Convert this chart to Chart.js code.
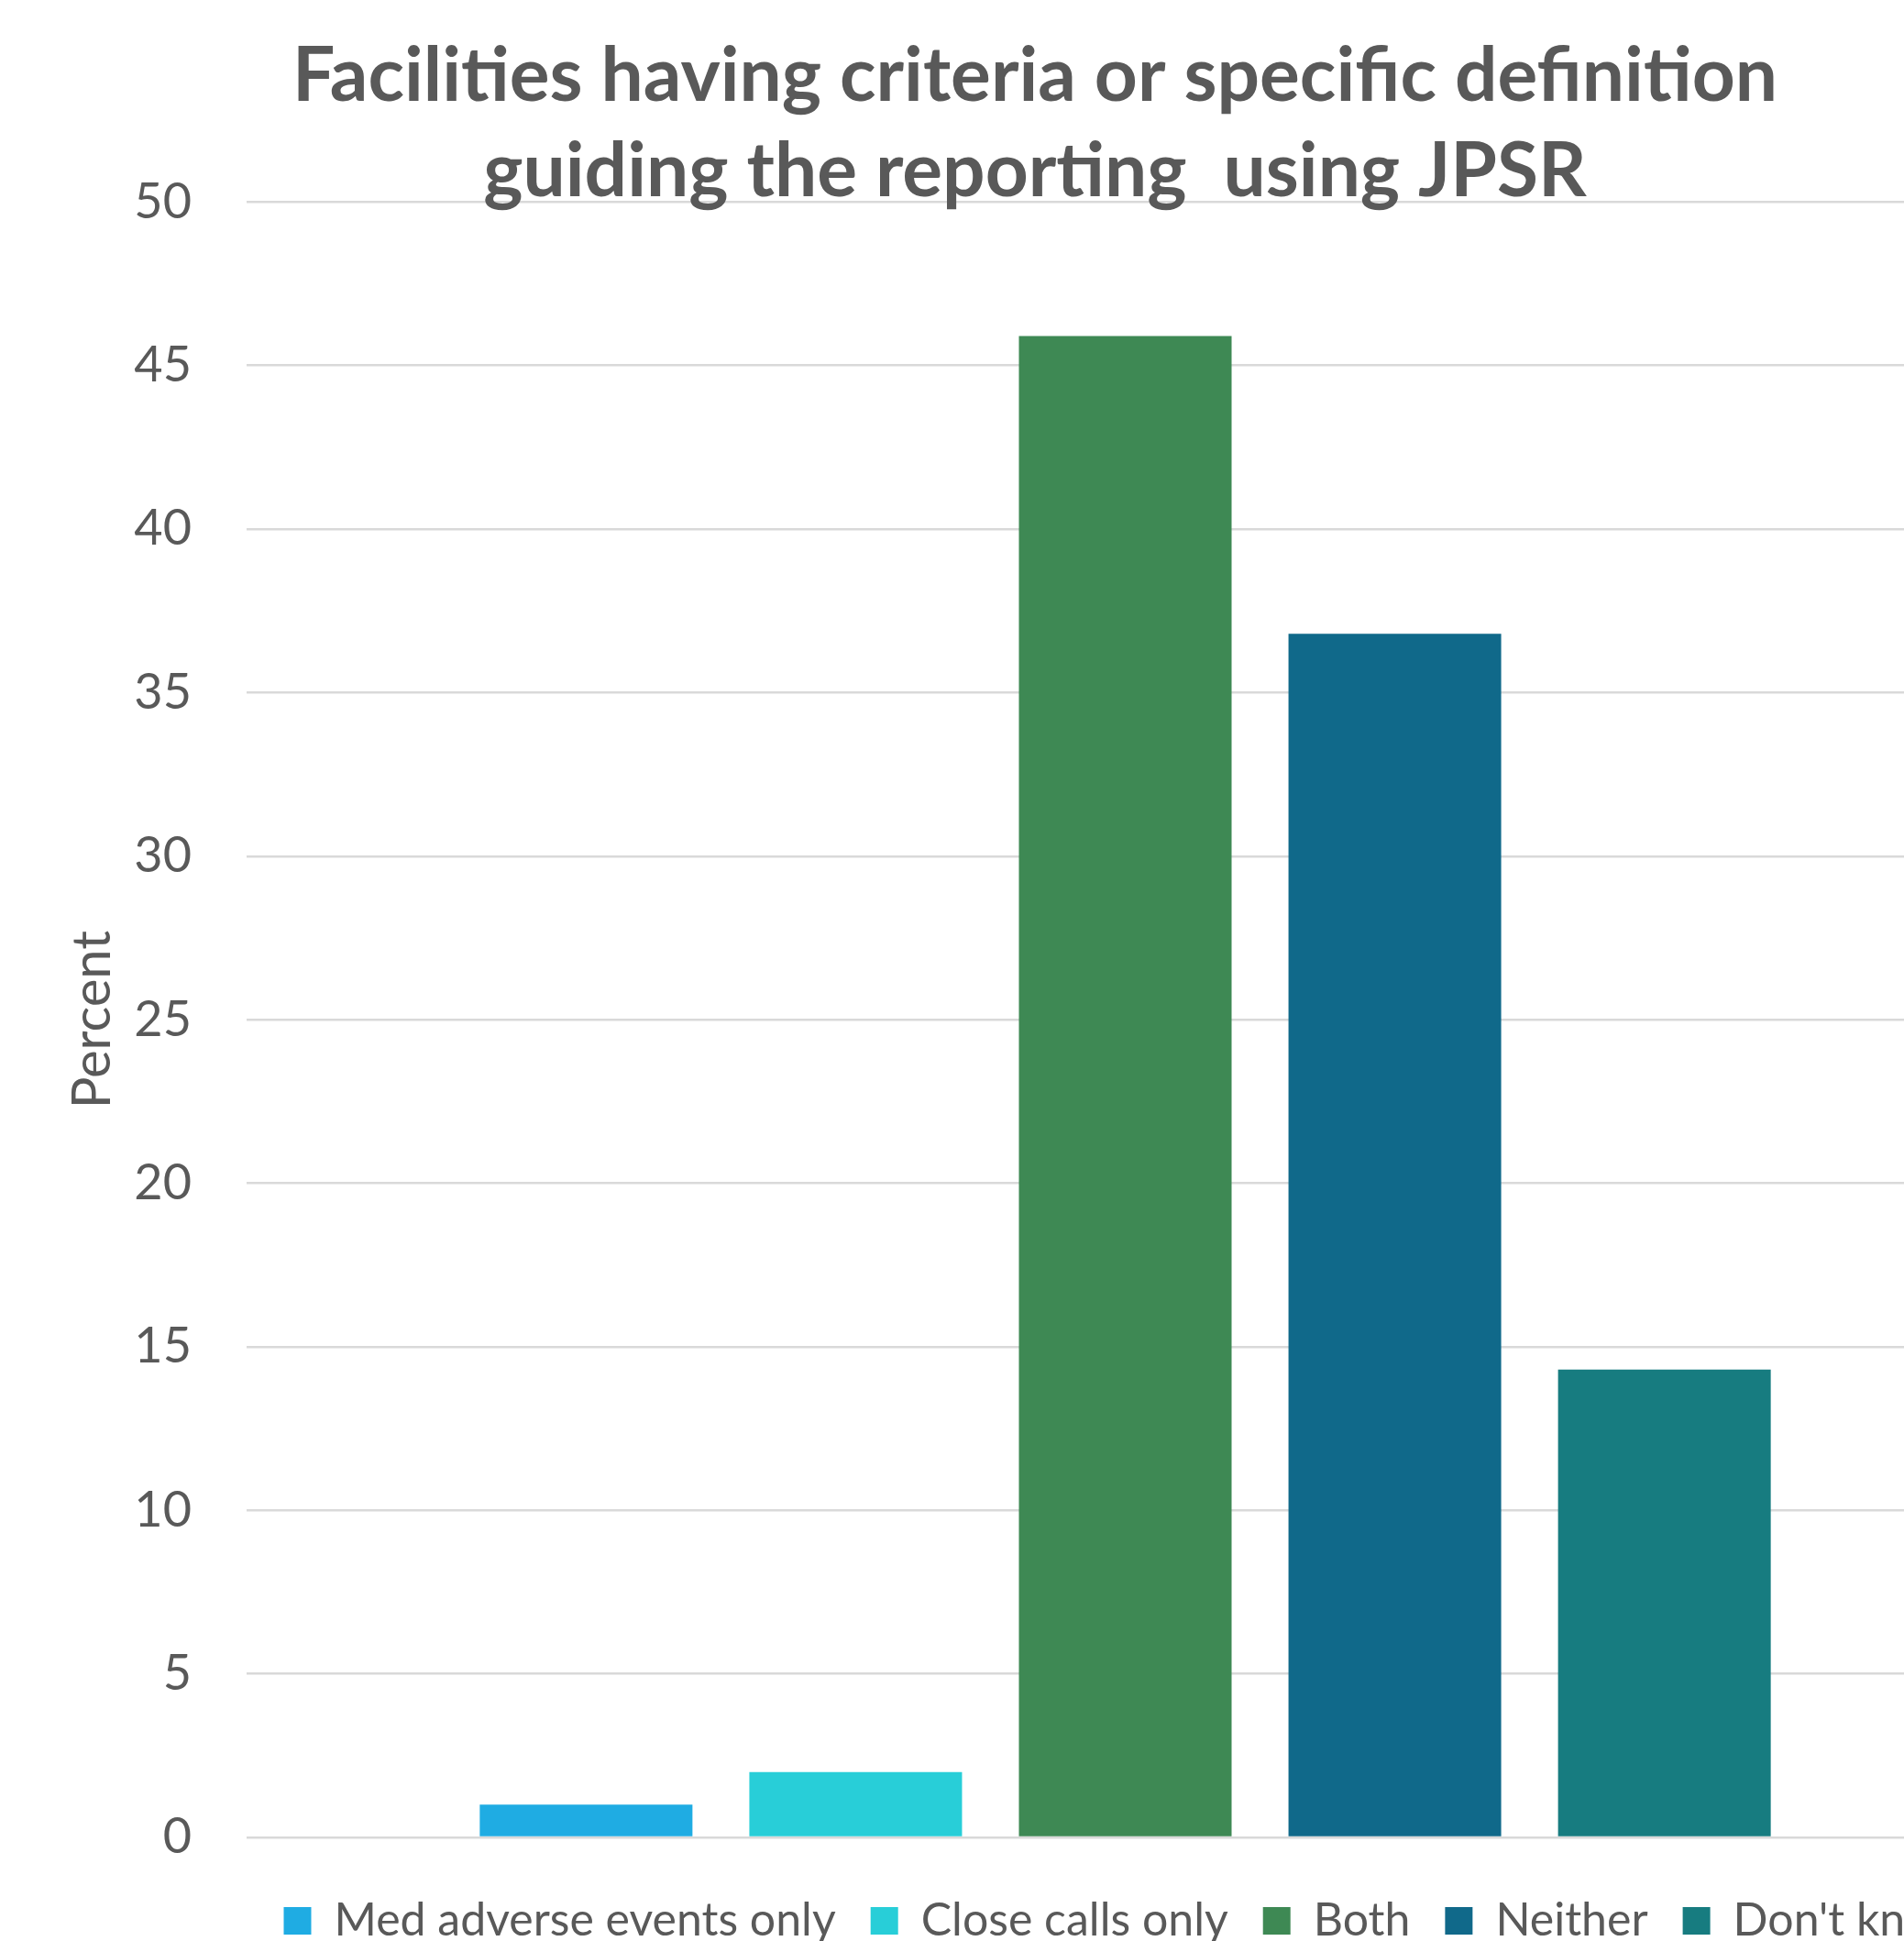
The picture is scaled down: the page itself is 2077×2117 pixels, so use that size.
<!DOCTYPE html>
<html>
<head>
<meta charset="utf-8">
<script src="https://cdn.jsdelivr.net/npm/chart.js@4/dist/chart.umd.min.js"></script>
<style>
  html, body { margin: 0; padding: 0; background: #ffffff; overflow: hidden; }
  #wrap { width: 2077px; height: 2117px; overflow: hidden; position: relative; }
  canvas { display: block; }
</style>
</head>
<body>
<div id="wrap"><canvas id="c" width="2258" height="2130"></canvas></div>
<script>
const chartTitle = ["Facilities having criteria or specific definition", "guiding the reporting  using JPSR"];
const categories = [""];
const seriesNames = ["Med adverse events only", "Close calls only", "Both", "Neither", "Don't know"];
const seriesValues = [1.0, 2.0, 45.9, 36.8, 14.3];
const seriesColors = ["#1FACE3", "#28CED8", "#3E8954", "#10698A", "#177C80"];
const yTitle = "Percent";
const yMin = 0, yMax = 50, yStep = 5;

const textColor = "#595959";
const fontFamily = "Lato, 'Open Sans', sans-serif";

const datasets = seriesNames.map((name, i) => ({
  label: name,
  data: [seriesValues[i]],
  backgroundColor: seriesColors[i],
  borderWidth: 0,
  categoryPercentage: 0.767,
  barPercentage: 0.789
}));

new Chart(document.getElementById("c"), {
  type: "bar",
  data: { labels: categories, datasets: datasets },
  options: {
    responsive: false,
    animation: false,
    layout: { padding: { left: 72, right: 72, top: 0, bottom: 0 } },
    plugins: {
      title: {
        display: true,
        text: chartTitle,
        color: textColor,
        font: { family: fontFamily, size: 82, weight: "bold", lineHeight: 1.27 },
        padding: { top: 31, bottom: -19 }
      },
      legend: {
        display: true,
        position: "bottom",
        align: "center",
        fullSize: false,
        labels: {
          color: textColor,
          font: { family: fontFamily, size: 50 },
          boxWidth: 30,
          boxHeight: 30,
          padding: 38
        }
      },
      tooltip: { enabled: false }
    },
    scales: {
      x: {
        display: true,
        grid: { display: false },
        border: { display: false },
        ticks: { display: false },
        afterFit: (s) => { s.height = 28; }
      },
      y: {
        min: yMin,
        max: yMax,
        border: { display: false },
        grid: { color: "#D9D9D9", lineWidth: 2.5, drawTicks: false },
        ticks: {
          stepSize: yStep,
          color: textColor,
          padding: 60,
          font: { family: fontFamily, size: 54 }
        },
        title: {
          display: true,
          text: yTitle,
          color: textColor,
          font: { family: fontFamily, size: 58, lineHeight: 1.0 },
          padding: { top: 0, bottom: 0 }
        },
        afterFit: (s) => { s.width = 197; }
      }
    }
  }
});
</script>
</body>
</html>
